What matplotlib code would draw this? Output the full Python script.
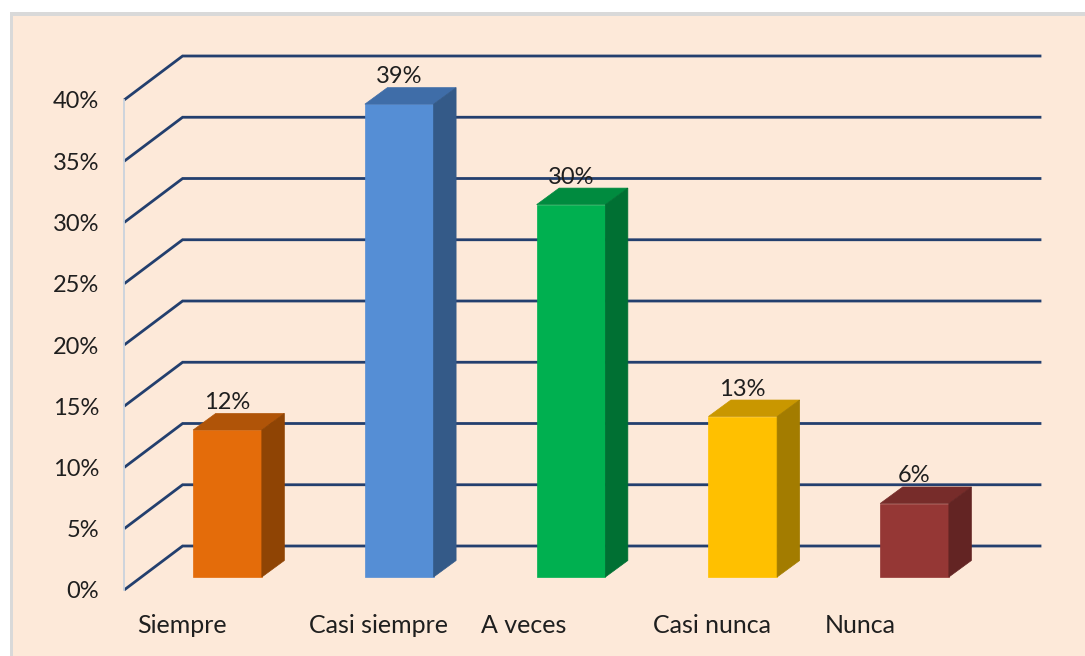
import matplotlib
matplotlib.use("Agg")
import matplotlib.pyplot as plt
from matplotlib.patches import Polygon, Rectangle
from matplotlib.transforms import IdentityTransform
import numpy as np

# ---- data ----
categories = ["Siempre", "Casi siempre", "A veces", "Casi nunca", "Nunca"]
values = [12.0, 38.6, 30.4, 13.1, 6.0]
value_labels = ["12%", "39%", "30%", "13%", "6%"]
yticks = [0, 5, 10, 15, 20, 25, 30, 35, 40]
ytick_labels = ["0%", "5%", "10%", "15%", "20%", "25%", "30%", "35%", "40%"]
front_colors = ["#E46C0A", "#558ED5", "#00B050", "#FFC000", "#953735"]
top_colors = ["#B05408", "#3F6DA8", "#008B3F", "#C99700", "#772C2A"]
side_colors = ["#8F4404", "#345A88", "#007033", "#A37C00", "#632423"]

W, H = 1085, 656
DPI = 100
BG = "#FDE9D9"
GRID = "#233F6E"
TXT = "#1F1F1F"
FONT = "Lato"

fig = plt.figure(figsize=(W / DPI, H / DPI), dpi=DPI)
fig.patch.set_facecolor("white")

# chart area frame
frame = fig.add_axes([0, 0, 1, 1])
frame.set_xlim(0, W)
frame.set_ylim(H, 0)
frame.axis("off")
frame.add_patch(Rectangle((10, 12), W, H, facecolor="#D9D9D9", edgecolor="none"))
frame.add_patch(Rectangle((13, 16), W, H, facecolor=BG, edgecolor="none"))

# main axes: bar front-face plane
x0_px, x1_px = 141.6, 1000.4
y0_px, y1_px = 577.0, 87.0
ax = fig.add_axes([x0_px / W, (H - y0_px) / H, (x1_px - x0_px) / W, (y0_px - y1_px) / H])
ax.set_xlim(-0.5, 4.5)
ax.set_ylim(0, 40)
ax.axis("off")
ax.patch.set_alpha(0)

ID = IdentityTransform()

def P(x, y, dx=0.0, dy=0.0):
    """data -> display pixels with a depth offset (dx right, dy up, in pixels)"""
    px, py = ax.transData.transform((x, y))
    return (px + dx, py + dy)

BACK = (41.0, 31.0)
FRONT = (-17.5, -13.0)
xmin, xmax = ax.get_xlim()

# gridlines (back wall + floor diagonals)
for t in yticks:
    a = P(xmin, t, *FRONT)
    b = P(xmin, t, *BACK)
    c = P(xmax, t, *BACK)
    fig.add_artist(plt.Line2D([a[0], b[0], c[0]], [a[1], b[1], c[1]], transform=ID,
                              color=GRID, lw=2.0, solid_capstyle="butt",
                              solid_joinstyle="miter", zorder=2))

# front vertical axis line
a = P(xmin, 0, *FRONT)
b = P(xmin, 40, *FRONT)
fig.add_artist(plt.Line2D([a[0], b[0]], [a[1], b[1]], transform=ID,
                          color="#C9D2DD", lw=1.3, zorder=2))

# y tick labels
for t, lab in zip(yticks, ytick_labels):
    px, py = P(xmin, t, *FRONT)
    fig.text((px - 25) / W, (py - 2) / H, lab, ha="right", va="center",
             fontsize=17, color=TXT, family=FONT, zorder=5)

# bars
bw = 0.2
SIDE = (22.5, 16.5)
for i, v in enumerate(values):
    fl = P(i - bw, 0); fr = P(i + bw, 0)
    tl = P(i - bw, v); tr = P(i + bw, v)
    tlb = P(i - bw, v, *SIDE); trb = P(i + bw, v, *SIDE)
    brb = P(i + bw, 0, *SIDE)
    front = Polygon([fl, fr, tr, tl], closed=True, transform=ID,
                    facecolor=front_colors[i], edgecolor=front_colors[i], lw=0.5, zorder=3)
    top = Polygon([tl, tr, trb, tlb], closed=True, transform=ID,
                  facecolor=top_colors[i], edgecolor=top_colors[i], lw=0.5, zorder=3)
    side = Polygon([fr, brb, trb, tr], closed=True, transform=ID,
                   facecolor=side_colors[i], edgecolor=side_colors[i], lw=0.5, zorder=3)
    for p in (front, top, side):
        fig.add_artist(p)
    # value label
    px, py = P(i, v)
    fig.text(px / W, (py + 21) / H, value_labels[i], ha="center", va="baseline",
             fontsize=17, color=TXT, family=FONT, zorder=5)
    # category label
    px, py = P(i, 0)
    fig.text((px - 90) / W, (py - 56) / H, categories[i], ha="left", va="baseline",
             fontsize=18, color=TXT, family=FONT, zorder=5)

fig.savefig("out.png", dpi=DPI, facecolor=fig.get_facecolor())
